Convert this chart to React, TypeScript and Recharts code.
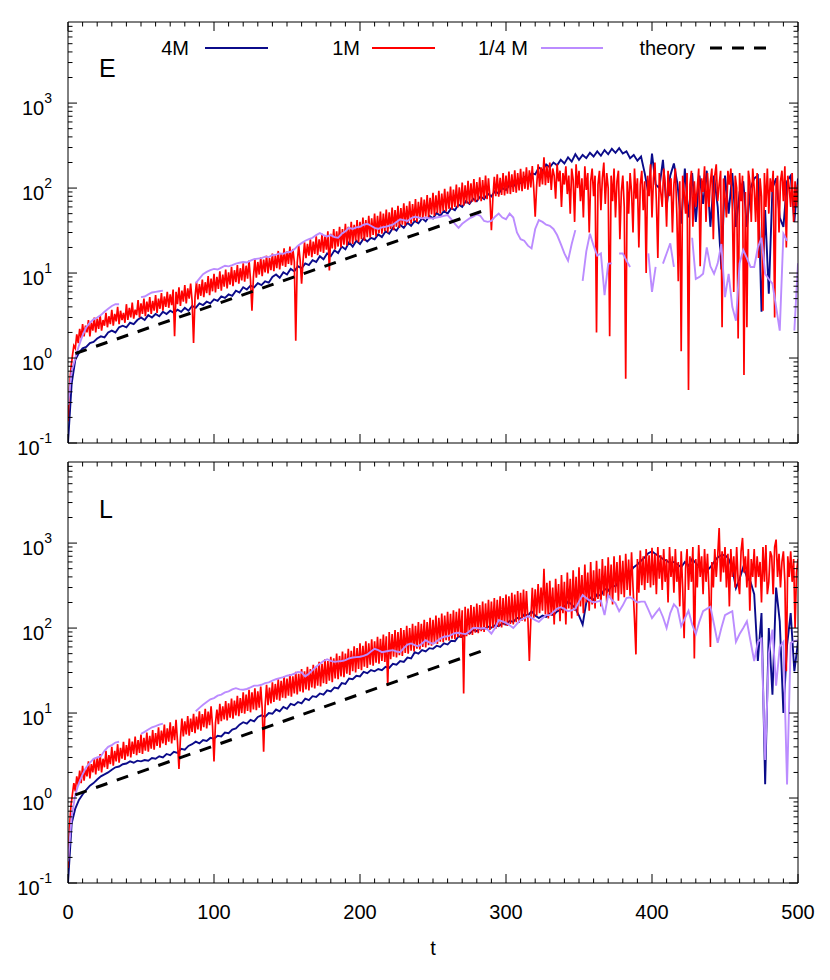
import React from 'react';
import { LineChart, Line, XAxis, YAxis } from 'recharts';

const FONT = '"Liberation Sans", Arial, Helvetica, sans-serif';

// sampling of the three runs (t step per point)
const STEP_1M = 1;
const STEP_4M = 2.5;
const STEP_QM = 2.5;

const xMajorTicks = [0, 100, 200, 300, 400, 500];
const xTickLabels = ['0', '100', '200', '300', '400', '500'];
const xTicks = Array.from({ length: 51 }, (_, i) => i * 10);

const yMajorTicks = [0.1, 1, 10, 100, 1000];
const yExponents = ['-1', '0', '1', '2', '3'];
const yMinorTicks = [
  0.2, 0.3, 0.4, 0.5, 0.6, 0.7, 0.8, 0.9,
  2, 3, 4, 5, 6, 7, 8, 9,
  20, 30, 40, 50, 60, 70, 80, 90,
  200, 300, 400, 500, 600, 700, 800, 900,
  2000, 3000, 4000, 5000, 6000, 7000, 8000,
];
const yTicks = [...yMajorTicks, ...yMinorTicks];

const theoryT = [5, 289];
const theoryE = [1.13, 57.6];
const theoryL = [1.09, 58];

// ---- panel E ----
const e1M = [
  0.18, 0.45, 0.75, 1.05, 1.4, 1.3, 1.9, 1.5, 2.2, 1.7,
  2.5, 1.8, 2.4, 2.0, 2.8, 1.8, 2.6, 2.1, 3.0, 2.0,
  2.9, 2.2, 3.2, 2.1, 2.8, 2.4, 3.4, 2.3, 3.1, 2.5,
  3.7, 2.4, 3.3, 2.7, 4.0, 2.5, 3.6, 2.8, 3.4, 2.6,
  4.3, 2.8, 3.9, 3.0, 4.5, 2.9, 3.7, 3.2, 4.8, 3.0,
  4.4, 3.3, 5.0, 3.1, 4.6, 3.5, 5.2, 3.3, 4.7, 3.6,
  5.5, 3.4, 5.0, 3.8, 5.8, 3.6, 5.3, 4.0, 6.0, 3.9,
  5.6, 4.2, 6.4, 1.8, 6.0, 4.3, 6.8, 4.1, 6.2, 4.6,
  7.2, 4.4, 6.6, 5.0, 7.5, 4.7, 1.5, 5.2, 7.9, 4.9,
  7.4, 5.4, 8.4, 5.2, 7.8, 5.8, 9.2, 5.5, 8.6, 6.1,
  9.8, 5.9, 9.0, 6.5, 10.5, 6.2, 9.6, 6.9, 11.0, 6.6,
  10.2, 7.3, 11.8, 7.0, 10.8, 7.8, 12.4, 7.5, 11.4, 8.2,
  13.0, 7.9, 12.2, 8.6, 14.0, 8.3, 3.6, 9.0, 14.5, 8.8,
  13.5, 9.6, 15.2, 9.2, 14.4, 10.2, 16.0, 9.9, 15.0, 10.8,
  17.0, 10.5, 16.2, 11.4, 18.2, 11.0, 17.0, 12.2, 19.5, 11.8,
  18.0, 12.8, 20.5, 12.4, 19.2, 13.6, 1.6, 13.2, 21.0, 14.2,
  7.5, 14.0, 23.0, 15.0, 22.0, 16.0, 25.0, 15.4, 23.5, 16.8,
  27.0, 16.2, 25.0, 17.8, 29.0, 17.2, 27.0, 18.8, 31.0, 10.7,
  29.0, 19.5, 33.0, 19.0, 31.0, 20.5, 35.0, 20.0, 33.0, 21.5,
  38.0, 21.0, 35.0, 22.5, 40.0, 22.0, 37.0, 24.0, 42.0, 23.0,
  40, 25, 45, 24, 42, 26.5, 47, 26, 44, 28,
  50, 27, 47, 29.5, 53, 29, 50, 31, 56, 30,
  52, 33, 59, 32, 55, 35, 62, 34, 58, 37,
  66, 36, 62, 39, 70, 38, 65, 41, 74, 40,
  69, 44, 78, 43, 73, 46, 83, 45, 77, 49,
  88, 47, 82, 51, 93, 50, 86, 54, 98, 53,
  91, 57, 104, 56, 96, 60, 110, 59, 102, 63,
  116, 62, 108, 66, 122, 65, 114, 69, 128, 68,
  118, 72, 134, 70, 124, 75, 140, 74, 130, 78,
  32, 76, 136, 80, 145, 79, 132, 83, 150, 82,
  140, 86, 156, 85, 145, 90, 162, 88, 150, 94,
  168, 92, 156, 98, 175, 96, 162, 102, 182, 100,
  46, 106, 190, 104, 175, 110, 230, 108, 182, 115,
  200, 95, 170, 140, 75, 190, 120, 160, 60, 150,
  110, 180, 85, 140, 50, 170, 125, 40, 190, 100,
  160, 70, 130, 45, 180, 95, 150, 30, 120, 170,
  80, 140, 2.0, 110, 160, 55, 130, 200, 65, 150,
  100, 1.8, 140, 70, 170, 45, 120, 160, 25, 90,
  140, 60, 0.57, 120, 50, 150, 90, 30, 170, 75,
  130, 20, 110, 160, 55, 120, 10, 140, 80, 190,
  45, 130, 200, 70, 15, 150, 90, 60, 170, 110,
  35, 160, 80, 130, 30, 110, 170, 50, 8, 120,
  1.2, 140, 90, 50, 150, 0.42, 110, 160, 35, 120,
  60, 100, 170, 12, 130, 90, 180, 40, 150, 60,
  120, 170, 25, 140, 190, 70, 110, 160, 2.3, 130,
  80, 45, 160, 110, 170, 60, 6, 140, 100, 1.7,
  150, 70, 140, 0.63, 90, 2.3, 160, 120, 40, 170,
  100, 40, 150, 15, 130, 80, 3.6, 150, 60, 170,
  50, 130, 90, 160, 3.0, 110, 140, 30, 120, 160,
  70, 180, 20, 140, 100, 60, 150, 40, 120, 60,
  110,
];

const e4M = [
  0.1, 0.5, 0.95, 1.15, 1.3, 1.35, 1.5, 1.55, 1.7, 1.8,
  1.75, 2.0, 2.1, 2.0, 2.3, 2.4, 2.3, 2.6, 2.5, 2.8,
  3.0, 2.8, 3.2, 3.0, 3.3, 3.1, 3.5, 3.3, 3.6, 3.4,
  3.7, 3.5, 3.9, 3.6, 4.1, 3.9, 4.4, 4.2, 4.6, 4.4,
  4.9, 4.7, 5.3, 5.1, 5.6, 5.4, 6.2, 5.9, 6.8, 6.4,
  7.1, 6.8, 7.6, 7.2, 8.0, 7.7, 9.0, 9.6, 8.8, 10.2,
  9.6, 11.2, 10.5, 12.0, 11.4, 13.0, 12.4, 14.2, 13.5, 15.8,
  14.5, 17.0, 15.8, 18.5, 17.2, 20.5, 19.0, 23.0, 20.5, 24.0,
  22, 25.5, 23.5, 26, 25, 28.5, 26.5, 31, 29, 34,
  31.5, 37, 34, 39, 36, 41, 38.5, 44, 40.5, 47,
  44, 51, 47, 54, 50, 58, 55, 64, 60, 70,
  65, 75, 70, 80, 74, 86, 80, 92, 86, 100,
  95, 110, 104, 122, 115, 135, 128, 150, 145, 175,
  160, 190, 175, 200, 185, 215, 195, 230, 205, 250,
  215, 245, 225, 260, 235, 270, 240, 280, 250, 290,
  260, 295, 255, 270, 225, 245, 210, 235, 150, 87,
  255, 110, 100, 215, 60, 140, 195, 110, 38, 170,
  45, 150, 40, 140, 65, 160, 35, 140, 60, 11,
  140, 50, 150, 35, 90, 120, 35, 100, 130, 140,
  3.5, 55, 5.7, 100, 130, 45, 35, 120, 140, 40,
  130,
];

const eQM = [
  0.28, 0.7, 1.0, 1.4, 1.85, 2.3, 2.6, 2.85, 3.0, 3.2,
  3.5, 3.8, 4.1, 4.3, 4.3, null, null, null, null, null,
  5.2, 5.3, 5.6, 5.9, 6.0, 6.1, 6.2, null, null, null,
  null, null, null, null, null, 7.6, 8.6, 9.7, 10.3, 10.8,
  11.2, 11.0, 11.6, 12.2, 12.0, 12.4, 12.9, 13.2, 13.5, 13.3,
  14.0, 14.6, 14.8, 15.0, 15.6, 15.4, 16.2, 16.5, 17.0, 16.8,
  17.6, 17.8, 19.0, 21.0, 22.5, 24.0, 25.0, 26.0, 28.0, 29.5,
  28.0, 27.0, 28.0, 26.5, 26.0, 29.0, 31.0, 34.0, 33.0, 34.5,
  35, 37, 38, 36, 34, 33, 34.5, 35, 36, 37,
  40, 43, 42, 41, 44, 46, 45, 44, 45, 44,
  44, 45, 46, 47, 48, 43, 38, 34, 38, 41,
  44, 46, 49, 47, 41, 40, 41, 46, 50, 45,
  43, 50, 45, 30, 25, 24, 21, 19.5, 33, 42,
  40, 37, 36, 33, 28, 22, 17, 14, 22, 32,
  null, 8.1, 18, 29, 21, 16, 17, 5.5, 12.9, 13,
  null, 17, 17, 14, 11.8, null, null, null, null, 17,
  6.0, 11.8, null, 12.9, 17, 22.4, 11.8, null, null, null,
  null, 26, 8.5, 9.0, 9.8, 20, 12, 9.8, 13, 22,
  5.2, 9.8, 4.0, 2.75, 13, 18.7, 15, 11.8, 11.8, 20,
  26, 9.8, 8.5, 7.5, 4.0, 2.1, 29, 24, null, 2.1,
  13,
];

// ---- panel L ----
const l1M = [
  0.15, 0.45, 0.8, 1.1, 1.5, 1.2, 1.8, 1.4, 2.1, 1.5,
  2.4, 1.6, 2.2, 1.8, 2.7, 1.7, 2.5, 2.0, 2.9, 1.9,
  3.0, 2.1, 3.3, 2.0, 2.9, 2.3, 3.6, 2.2, 3.2, 2.5,
  4.0, 2.4, 3.6, 2.7, 4.3, 2.6, 3.9, 2.9, 4.6, 2.8,
  4.2, 3.1, 5.0, 3.0, 4.6, 3.3, 5.3, 3.2, 4.8, 3.4,
  5.6, 3.3, 5.1, 3.6, 5.9, 3.5, 5.4, 3.8, 6.3, 3.7,
  5.8, 4.1, 6.8, 3.9, 6.2, 4.4, 7.3, 4.2, 6.6, 4.6,
  7.8, 4.4, 7.0, 4.8, 8.3, 4.6, 2.2, 5.0, 8.6, 5.3,
  8.0, 5.6, 9.2, 5.4, 8.6, 6.0, 9.8, 5.8, 9.1, 6.4,
  10.5, 6.2, 9.7, 6.8, 11.2, 6.6, 10.4, 7.2, 12.0, 7.0,
  2.7, 7.6, 11.0, 7.4, 12.8, 8.0, 12.0, 8.4, 13.8, 8.2,
  13.0, 8.8, 14.8, 8.6, 14.0, 9.4, 16.0, 9.2, 15.0, 10.0,
  17.5, 9.8, 16.5, 10.6, 18.8, 10.2, 17.5, 11.0, 19.5, 10.8,
  18.0, 11.6, 20.5, 11.4, 3.5, 12.0, 21.5, 12.4, 20.0, 13.0,
  23.0, 13.5, 22.0, 14.4, 25.0, 14.0, 24.0, 15.2, 27.0, 15.0,
  25.5, 16.0, 28.5, 15.6, 27.0, 17.0, 30.5, 16.6, 29.0, 18.0,
  33, 17.5, 31, 19, 35, 18.5, 33, 20, 37, 19.5,
  35, 21, 40, 20.5, 38, 22.5, 43, 22, 41, 24,
  46, 23, 44, 25.5, 50, 25, 47, 27, 53, 26.5,
  50, 29, 57, 28, 54, 31, 61, 30, 58, 33,
  66, 32, 62, 35, 70, 34, 66, 37, 74, 36,
  70, 39, 79, 38, 75, 41, 84, 40, 80, 21,
  90, 43, 85, 46, 95, 45, 90, 48, 100, 47,
  95, 51, 106, 50, 100, 54, 112, 53, 106, 57,
  118, 56, 112, 60, 125, 59, 118, 63, 132, 62,
  125, 66, 140, 65, 132, 69, 148, 68, 140, 72,
  155, 71, 147, 75, 162, 74, 155, 78, 170, 77,
  162, 17, 178, 80, 170, 84, 186, 83, 178, 88,
  195, 87, 186, 92, 205, 90, 195, 96, 215, 95,
  205, 100, 225, 98, 215, 104, 236, 102, 225, 108,
  248, 106, 236, 112, 260, 110, 248, 117, 272, 115,
  260, 122, 285, 120, 272, 127, 41, 125, 298, 132,
  285, 140, 330, 150, 300, 160, 500, 145, 340, 130,
  360, 140, 300, 110, 380, 160, 330, 120, 420, 150,
  350, 110, 450, 170, 380, 130, 480, 160, 400, 140,
  520, 180, 420, 150, 560, 200, 450, 160, 600, 190,
  480, 170, 620, 220, 500, 180, 650, 240, 540, 200,
  680, 230, 560, 190, 700, 260, 600, 210, 720, 250,
  620, 230, 750, 280, 640, 240, 780, 300, 130, 49,
  650, 260, 820, 320, 700, 280, 850, 340, 720, 300,
  880, 320, 750, 250, 900, 380, 720, 280, 850, 350,
  650, 200, 900, 400, 700, 260, 850, 350, 600, 180,
  800, 300, 76, 500, 850, 280, 700, 350, 900, 44,
  650, 300, 950, 400, 700, 250, 850, 350, 750, 280,
  60, 600, 300, 850, 400, 700, 1500, 350, 800, 450,
  900, 300, 750, 180, 850, 400, 700, 300, 900, 350,
  250, 800, 1150, 450, 700, 300, 850, 160, 650, 400,
  850, 300, 700, 400, 600, 200, 900, 350, 950, 250,
  350, 800, 700, 250, 900, 1100, 400, 750, 300, 600,
  800, 350, 31, 700, 400, 800, 350, 650, 100, 450,
  650,
];

const l4M = [
  0.1, 0.5, 0.75, 0.95, 1.1, 1.25, 1.4, 1.5, 1.65, 1.8,
  1.9, 2.0, 2.15, 2.3, 2.35, 2.5, 2.55, 2.7, 2.6, 2.75,
  2.7, 2.8, 2.75, 2.95, 2.9, 3.1, 3.0, 3.3, 3.2, 3.5,
  3.4, 3.8, 3.7, 4.1, 4.3, 4.6, 4.4, 4.8, 4.7, 5.1,
  5.0, 5.4, 5.3, 5.9, 5.8, 6.4, 6.6, 7.3, 7.8, 7.5,
  8.3, 8.0, 9.0, 9.4, 9.0, 10.0, 9.8, 11.0, 10.5, 11.8,
  11.2, 12.8, 12.4, 13.5, 13.0, 14.8, 14.2, 15.8, 15.5, 17.0,
  16.5, 18.5, 18.0, 20.0, 19.5, 22.5, 22.0, 25.5, 25.0, 27.5,
  27, 30.5, 29.5, 32, 31, 33, 32, 35, 34, 38,
  37, 41, 40, 45, 44, 52, 50, 55, 53, 58,
  57, 62, 60, 66, 64, 71, 70, 80, 78, 90,
  86, 95, 92, 100, 97, 104, 101, 108, 105, 114,
  110, 122, 118, 132, 128, 145, 140, 158, 140, 131,
  140, 135, 148, 142, 157, 165, 180, 205, 190, 170,
  140, 110, 200, 230, 215, 250, 240, 290, 275, 320,
  310, 370, 390, 420, 460, 520, 560, 620, 680, 760,
  800, 740, 700, 650, 620, 580, 600, 560, 520, 600,
  540, 650, 580, 520, 480, 470, 520, 600, 680, 720,
  725, 650, 500, 295, 380, 520, 400, 350, 250, 41,
  150, 1.45, 100, 16.4, 300, 120, 10, 63, 150, 31,
  69,
];

const lQM = [
  0.18, 0.6, 1.1, 1.5, 1.9, 2.3, 2.6, 2.9, 3.0, 3.1,
  3.6, 4.0, 4.2, 4.5, 4.6, null, null, null, null, null,
  5.7, 6.0, 6.4, 6.8, 7.0, 7.3, 7.5, null, null, null,
  null, null, null, null, null, 10.5, 11.5, 12.5, 13.5, 14.5,
  15.0, 16.0, 16.5, 17.5, 18.0, 19.0, 19.6, 19.0, 18.8, 19.2,
  20.0, 21.0, 21.0, 21.5, 22.5, 23.0, 24.0, 25.0, 25.8, 26.5,
  27.5, 28.0, 29.0, 30.5, 30.0, 27.0, 29.0, 32.0, 35.0, 38.0,
  41, 43, 41, 40, 40.5, 41, 42, 44, 45, 45.5,
  46, 47, 49, 53, 57, 55, 52, 53, 54, 55,
  53, 52, 58, 64, 66, 63, 61, 66, 72, 68,
  65, 70, 75, 79, 80, 83, 87, 88, 86, 85,
  92, 100, 100, 99, 100, 96, 86, 100, 124, 120,
  115, 108, 100, 112, 125, 130, 138, 132, 124, 118,
  130, 142, 142, 155, 170, 176, 168, 158, 162, 170,
  205, 245, 225, 210, 200, 205, 210, 142, 245, 215,
  195, 158, 185, 225, 230, 215, 200, 205, 205, 165,
  131, 150, 170, 135, 100, 150, 190, 170, 105, 130,
  160, 110, 85, 120, 158, 168, 178, 110, 67, 100,
  142, 150, 158, 69, 85, 100, 120, 70, 41, 69,
  75, 2.8, 50, 96, 21, 60, 69, 1.44, 67, 70,
  72,
];

const toPoints = (vals: (number | null)[], step: number) =>
  vals.map((v, i) => ({ t: i * step, v }));
const theoryPoints = (vals: number[]) => theoryT.map((t, i) => ({ t, v: vals[i] }));

const COL_4M = '#0b0b8a';
const COL_1M = '#ff0000';
const COL_QM = '#bb8cff';

const xTickRenderer = (side: 'top' | 'bottom', labels: boolean) => (props: any) => {
  const { x, y, payload } = props;
  const idx = xMajorTicks.indexOf(payload.value);
  const len = idx >= 0 ? 9 : 4.5;
  const dir = side === 'bottom' ? -1 : 1;
  return (
    <g>
      <line x1={x} x2={x} y1={y} y2={y + dir * len} stroke="#000" strokeWidth={1} />
      {labels && idx >= 0 && (
        <text x={x} y={y + 36} textAnchor="middle" fontSize={20} fontFamily={FONT} fill="#000">
          {xTickLabels[idx]}
        </text>
      )}
    </g>
  );
};

const yTickRenderer = (side: 'left' | 'right') => (props: any) => {
  const { x, y, payload } = props;
  const idx = yMajorTicks.indexOf(payload.value);
  const len = idx >= 0 ? 9 : 4.5;
  const dir = side === 'left' ? 1 : -1;
  return (
    <g>
      <line x1={x} x2={x + dir * len} y1={y} y2={y} stroke="#000" strokeWidth={1} />
      {side === 'left' && idx >= 0 && (
        <text x={x - 16} y={y + 12} textAnchor="end" fontSize={20} fontFamily={FONT} fill="#000">
          10
          <tspan dy={-12} fontSize={14}>{yExponents[idx]}</tspan>
        </text>
      )}
    </g>
  );
};

interface PanelProps {
  top: number;
  height: number;
  bottomMargin: number;
  showXLabels: boolean;
  red: (number | null)[];
  navy: (number | null)[];
  purple: (number | null)[];
  theory: number[];
}

const Panel = ({ top, height, bottomMargin, showXLabels, red, navy, purple, theory }: PanelProps) => {
  const axisLine = { stroke: '#000', strokeWidth: 1 };
  return (
    <div style={{ position: 'absolute', left: 0, top }}>
      <LineChart width={814} height={height} margin={{ top: 13, right: 23, bottom: bottomMargin, left: 0 }}>
        <XAxis
          xAxisId="b"
          dataKey="t"
          type="number"
          domain={[0, 500]}
          allowDataOverflow
          ticks={xTicks}
          interval={0}
          height={1}
          tickSize={0}
          tickMargin={0}
          tickLine={false}
          axisLine={axisLine}
          tick={xTickRenderer('bottom', showXLabels)}
        />
        <XAxis
          xAxisId="t"
          orientation="top"
          dataKey="t"
          type="number"
          domain={[0, 500]}
          allowDataOverflow
          ticks={xTicks}
          interval={0}
          height={1}
          tickSize={0}
          tickMargin={0}
          tickLine={false}
          axisLine={axisLine}
          tick={xTickRenderer('top', false)}
        />
        <YAxis
          yAxisId="l"
          type="number"
          scale="log"
          domain={[0.1, 9000]}
          allowDataOverflow
          ticks={yTicks}
          interval={0}
          width={60}
          tickSize={0}
          tickMargin={0}
          tickLine={false}
          axisLine={axisLine}
          tick={yTickRenderer('left')}
        />
        <YAxis
          yAxisId="r"
          orientation="right"
          type="number"
          scale="log"
          domain={[0.1, 9000]}
          allowDataOverflow
          ticks={yTicks}
          interval={0}
          width={1}
          tickSize={0}
          tickMargin={0}
          tickLine={false}
          axisLine={axisLine}
          tick={yTickRenderer('right')}
        />
        <Line xAxisId="b" yAxisId="l" data={toPoints(navy, STEP_4M)} dataKey="v" stroke={COL_4M}
          strokeWidth={1.9} dot={false} isAnimationActive={false} type="linear" />
        <Line xAxisId="b" yAxisId="l" data={toPoints(red, STEP_1M)} dataKey="v" stroke={COL_1M}
          strokeWidth={1.7} dot={false} isAnimationActive={false} type="linear" />
        <Line xAxisId="b" yAxisId="l" data={toPoints(purple, STEP_QM)} dataKey="v" stroke={COL_QM}
          strokeWidth={1.9} dot={false} isAnimationActive={false} type="linear" />
        <Line xAxisId="t" yAxisId="r" data={theoryPoints(theory)} dataKey="v" stroke="#000"
          strokeWidth={3} strokeDasharray="12 10" dot={false} isAnimationActive={false} type="linear" />
      </LineChart>
    </div>
  );
};

const legendItems = [
  { label: '4M', textEnd: 181, x1: 197, x2: 260, color: COL_4M, dash: undefined },
  { label: '1M', textEnd: 352, x1: 364, x2: 427, color: COL_1M, dash: undefined },
  { label: '1/4 M', textEnd: 520, x1: 533, x2: 595, color: COL_QM, dash: undefined },
  { label: 'theory', textEnd: 687, x1: 702, x2: 764, color: '#000', dash: '12 10' },
];

export default function App() {
  return (
    <div style={{ position: 'relative', width: 814, height: 964, background: '#fff' }}>
      <Panel top={0} height={460} bottomMargin={24} showXLabels={false}
        red={e1M} navy={e4M} purple={eQM} theory={theoryE} />
      <Panel top={440} height={500} bottomMargin={64} showXLabels={true}
        red={l1M} navy={l4M} purple={lQM} theory={theoryL} />
      <svg width={814} height={964} style={{ position: 'absolute', left: 0, top: 0, pointerEvents: 'none' }}>
        {legendItems.map((it) => (
          <g key={it.label}>
            <text x={it.textEnd} y={47} textAnchor="end" fontSize={20} fontFamily={FONT} fill="#000">
              {it.label}
            </text>
            <line x1={it.x1} x2={it.x2} y1={40} y2={40} stroke={it.color}
              strokeWidth={it.dash ? 3 : 2} strokeDasharray={it.dash} />
          </g>
        ))}
        <text x={91} y={69} fontSize={25} fontFamily={FONT} fill="#000">E</text>
        <text x={91} y={510} fontSize={25} fontFamily={FONT} fill="#000">L</text>
        <text x={425} y={947} textAnchor="middle" fontSize={20} fontFamily={FONT} fill="#000">t</text>
      </svg>
    </div>
  );
}
